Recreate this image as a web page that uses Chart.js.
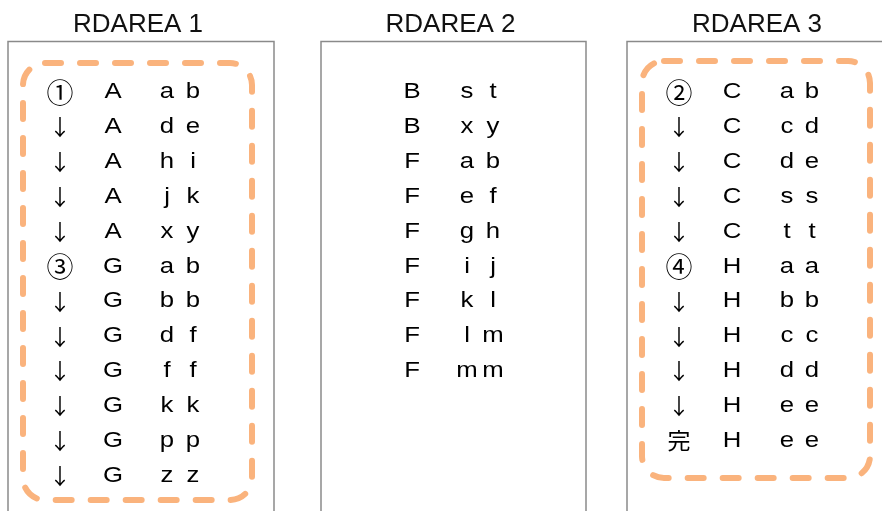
<!DOCTYPE html>
<html>
<head>
  <title>RDAREA</title>
  <script src="https://cdn.jsdelivr.net/npm/chart.js"></script>
  <style>
    body { margin: 0; background: #fff; }
  </style>
</head>
<body>
  <canvas id="rdChart" width="882" height="511"></canvas>

  <script>
    // text of each area, one entry per row
    const titles = ['RDAREA 1', 'RDAREA 2', 'RDAREA 3'];

    const area1Marks = ['①', '↓', '↓', '↓', '↓', '③', '↓', '↓', '↓', '↓', '↓', '↓'];
    const area1Keys = ['A', 'A', 'A', 'A', 'A', 'G', 'G', 'G', 'G', 'G', 'G', 'G'];
    const area1Vals = ['ab', 'de', 'hi', 'jk', 'xy', 'ab', 'bb', 'df', 'ff', 'kk', 'pp', 'zz'];

    const area2Keys = ['B', 'B', 'F', 'F', 'F', 'F', 'F', 'F', 'F'];
    const area2Vals = ['st', 'xy', 'ab', 'ef', 'gh', 'ij', 'kl', 'lm', 'mm'];

    const area3Marks = ['②', '↓', '↓', '↓', '↓', '④', '↓', '↓', '↓', '↓', '完'];
    const area3Keys = ['C', 'C', 'C', 'C', 'C', 'H', 'H', 'H', 'H', 'H', 'H'];
    const area3Vals = ['ab', 'cd', 'de', 'ss', 'tt', 'aa', 'bb', 'cc', 'dd', 'ee', 'ee'];

    // layout (pixels)
    const ROW0 = 92.3, ROW_GAP = 34.84;
    const panels = [
      { left: 8, right: 274, cols: [60, 113, 167, 193], box: [23, 63, 252, 500] },
      { left: 321, right: 586, cols: [null, 412, 467, 493] },
      { left: 627, right: 893, cols: [679, 732, 787, 812], box: [642, 61, 870, 478] }
    ];
    const areaText = [
      [area1Marks, area1Keys, area1Vals],
      [null, area2Keys, area2Vals],
      [area3Marks, area3Keys, area3Vals]
    ];
    const TEXT_FONT = '22px "Liberation Sans", sans-serif';
    const TEXT_STRETCH = 1.17; // the original letters are wider than Arial
    const CJK = '"Noto Sans CJK JP", sans-serif';
    const markFont = t => {
      if (t === '↓') return '22px ' + CJK;
      if (t === '完') return '23px ' + CJK;
      return '27px ' + CJK;
    };

    const datasets = [];
    areaText.forEach((cols, p) => {
      const [marks, keys, vals] = cols;
      const cx = panels[p].cols;
      const addCol = (labels, x, kind) => {
        datasets.push({
          labels: labels,
          kind: kind,
          data: labels.map((t, i) => ({ x: x, y: i })),
          pointRadius: 0
        });
      };
      if (marks) addCol(marks, cx[0], 'mark');
      addCol(keys, cx[1], 'text');
      addCol(vals.map(v => v[0]), cx[2], 'text');
      addCol(vals.map(v => v[1]), cx[3], 'text');
    });

    const rdPlugin = {
      id: 'rdPlugin',
      beforeDatasetsDraw(chart) {
        const ctx = chart.ctx;
        ctx.save();
        // frames
        ctx.strokeStyle = '#8a8a8a';
        ctx.lineWidth = 1.5;
        panels.forEach(p => {
          ctx.strokeRect(p.left, 41.5, p.right - p.left, 500);
        });
        // titles
        ctx.fillStyle = '#111';
        ctx.font = '26px "Liberation Sans", sans-serif';
        ctx.textAlign = 'center';
        ctx.textBaseline = 'alphabetic';
        titles.forEach((t, i) => {
          const p = panels[i];
          ctx.fillText(t, (p.left + p.right) / 2 - 3, 32);
        });
        // dashed groups
        ctx.strokeStyle = '#fab37d';
        ctx.lineWidth = 6;
        ctx.lineCap = 'round';
        ctx.setLineDash([16, 19]);
        panels.forEach(p => {
          if (!p.box) return;
          const [x1, y1, x2, y2] = p.box;
          ctx.beginPath();
          ctx.roundRect(x1, y1, x2 - x1, y2 - y1, 22);
          ctx.stroke();
        });
        ctx.restore();
      },
      afterDatasetsDraw(chart) {
        const ctx = chart.ctx;
        ctx.fillStyle = '#000';
        ctx.textAlign = 'center';
        ctx.textBaseline = 'middle';
        chart.data.datasets.forEach((ds, i) => {
          const meta = chart.getDatasetMeta(i);
          meta.data.forEach((pt, j) => {
            const t = ds.labels[j];
            ctx.save();
            ctx.translate(pt.x, pt.y);
            if (ds.kind === 'mark') {
              ctx.font = markFont(t);
            } else {
              ctx.font = TEXT_FONT;
              ctx.scale(TEXT_STRETCH, 1);
            }
            ctx.fillText(t, 0, 0);
            ctx.restore();
          });
        });
      }
    };

    new Chart(document.getElementById('rdChart').getContext('2d'), {
      type: 'scatter',
      data: { datasets: datasets },
      options: {
        responsive: false,
        animation: false,
        events: [],
        layout: { padding: 0 },
        plugins: {
          legend: { display: false },
          tooltip: { enabled: false }
        },
        scales: {
          x: { type: 'linear', display: false, min: 0, max: 882 },
          y: {
            type: 'linear', display: false, reverse: true,
            min: -ROW0 / ROW_GAP,
            max: (511 - ROW0) / ROW_GAP
          }
        }
      },
      plugins: [rdPlugin]
    });
  </script>
</body>
</html>
